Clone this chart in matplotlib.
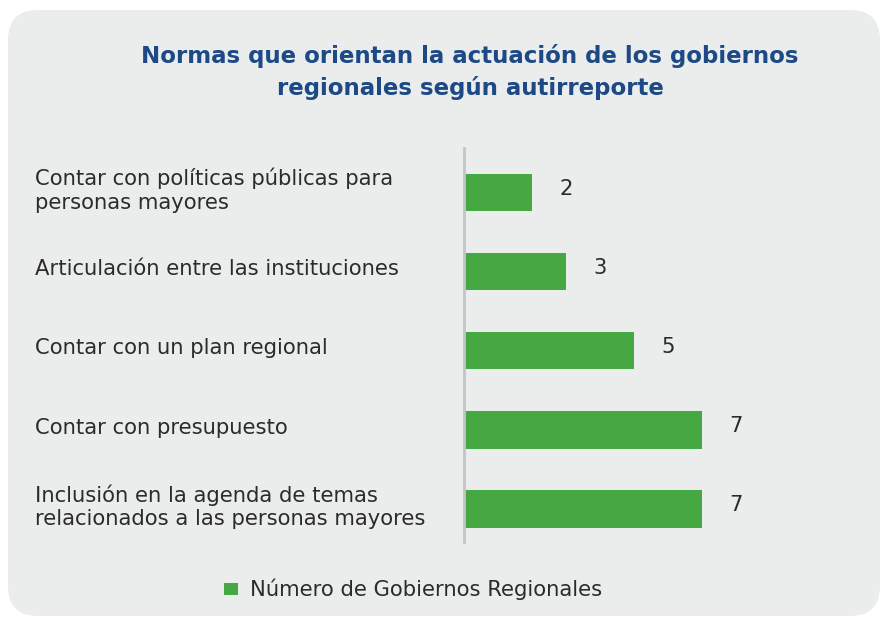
import matplotlib
matplotlib.use("Agg")
import matplotlib.pyplot as plt
from matplotlib.patches import FancyBboxPatch, Rectangle
from matplotlib.transforms import blended_transform_factory

categories = [
    "Contar con políticas públicas para\npersonas mayores",
    "Articulación entre las instituciones",
    "Contar con un plan regional",
    "Contar con presupuesto",
    "Inclusión en la agenda de temas\nrelacionados a las personas mayores",
]
values = [2, 3, 5, 7, 7]
title = "Normas que orientan la actuación de los gobiernos\nregionales según autirreporte"
legend_label = "Número de Gobiernos Regionales"

W, H = 884, 617
GREEN = "#46a843"
BLUE = "#1d4a87"
TEXT = "#2b2b2b"
PANEL = "#ebecec"
FONT = "DejaVu Sans"
FS = 15.2

fig = plt.figure(figsize=(W / 100, H / 100), dpi=100)
fig.patch.set_facecolor("white")

# background panel, pixel coords
bg = fig.add_axes([0, 0, 1, 1])
bg.set_xlim(0, W)
bg.set_ylim(H, 0)
bg.axis("off")
bg.add_patch(FancyBboxPatch((8, 10), 872, 606, boxstyle="round,pad=0,rounding_size=30",
                            facecolor=PANEL, edgecolor="none"))
bg.text(470, 72, title, ha="center", va="center", fontsize=16.5, fontweight="bold",
        color=BLUE, family=FONT, linespacing=1.45)

# legend
bg.add_patch(Rectangle((224, 583), 14, 12, facecolor=GREEN, edgecolor="none"))
bg.text(250, 589, legend_label, ha="left", va="center", fontsize=FS, color=TEXT, family=FONT)

# bar axes: left 464px, top 153px, bottom 548.6px
top, bot = 153.0, 548.6
ax = fig.add_axes([464 / W, 1 - bot / H, 408 / W, (bot - top) / H])
ax.patch.set_alpha(0)
ypos = list(range(len(categories)))
ax.barh(ypos, values, height=0.47, color=GREEN)
ax.set_xlim(0, 12)
ax.set_ylim(len(categories) - 0.5, -0.5)
for s in ax.spines.values():
    s.set_visible(False)
ax.set_xticks([])
ax.set_yticks([])
span = bot - top
ax.axvline(0, ymin=(bot - 542) / span, ymax=(bot - 148) / span, color="#c4c5c6",
           linewidth=2, clip_on=False)

for y, v in zip(ypos, values):
    ax.text(v + 0.8, y - 0.05, str(v), ha="left", va="center", fontsize=FS,
            color=TEXT, family=FONT)

trans = blended_transform_factory(fig.transFigure, ax.transData)
for y, c in zip(ypos, categories):
    ax.text(35 / W, y - 0.03, c, transform=trans, ha="left", va="center", fontsize=FS,
            color=TEXT, family=FONT, linespacing=1.2)

fig.savefig("out.png", dpi=100)
